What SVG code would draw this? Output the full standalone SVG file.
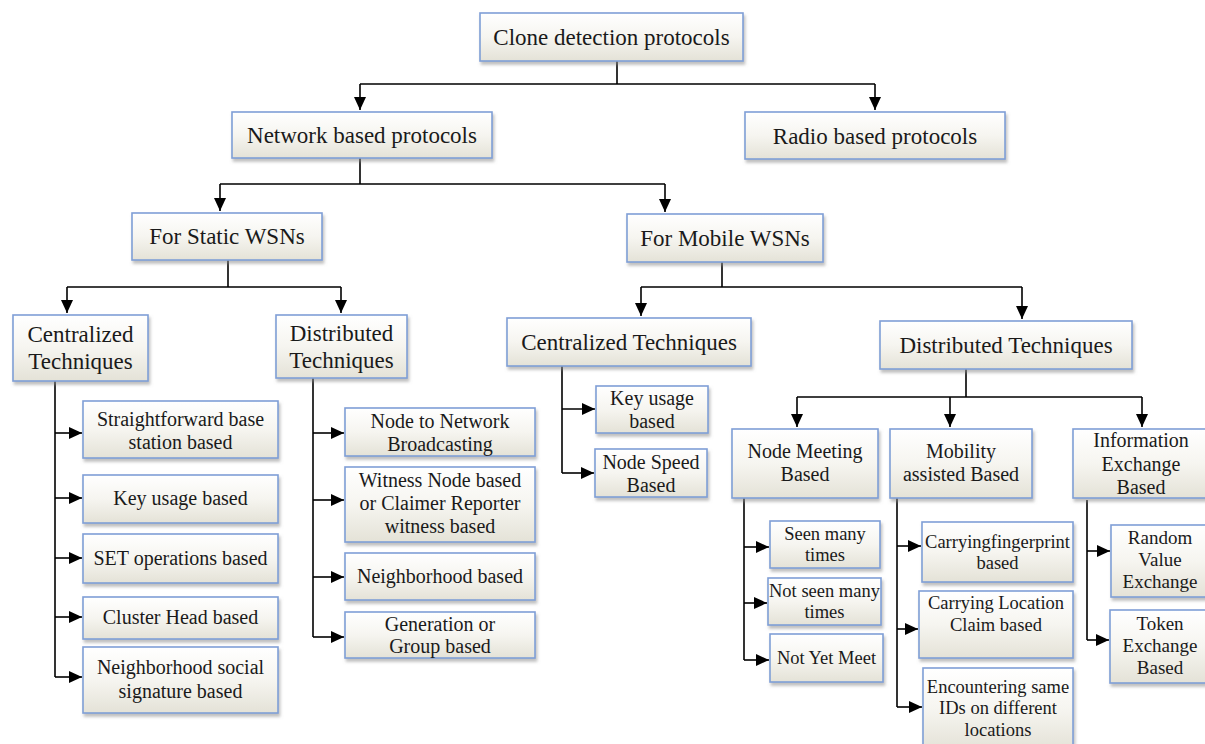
<svg xmlns="http://www.w3.org/2000/svg" width="1205" height="744" viewBox="0 0 1205 744">
<defs>
<linearGradient id="g" x1="0" y1="0" x2="0" y2="1">
<stop offset="0" stop-color="#ffffff"/>
<stop offset="0.5" stop-color="#f6f5f0"/>
<stop offset="1" stop-color="#e4e2d7"/>
</linearGradient>
<filter id="sh" x="-10%" y="-10%" width="130%" height="140%">
<feDropShadow dx="1.5" dy="3" stdDeviation="1.8" flood-color="#8a8a8a" flood-opacity="0.55"/>
</filter>
<marker id="ah" viewBox="0 0 13 12" refX="13" refY="6" markerWidth="13" markerHeight="12" markerUnits="userSpaceOnUse" orient="auto">
<path d="M0,0 L13,6 L0,12 z" fill="#000"/>
</marker>
</defs>
<style>
rect.b{fill:url(#g);stroke:#7f9fd6;stroke-width:1.6;filter:url(#sh)}
text{font-family:"Liberation Serif","Times New Roman",serif;fill:#1a1a1a;text-anchor:middle}
.l1{font-size:23px}
.l2{font-size:20px}
.l3{font-size:18.5px}
.l4{font-size:19px}
#connectors path{fill:none;stroke:#000;stroke-width:1.6}
#connectors path.a{marker-end:url(#ah)}
</style>
<rect width="1205" height="744" fill="#ffffff"/>

<g id="connectors">
<path d="M617 61 V84 M360 84 H875"/>
<path class="a" d="M360 84 V110"/>
<path class="a" d="M875 84 V110"/>
<path d="M360 158 V184 M220 184 H665"/>
<path class="a" d="M220 184 V211"/>
<path class="a" d="M665 184 V212"/>
<path d="M228 260 V287 M67 287 H341"/>
<path class="a" d="M67 287 V313"/>
<path class="a" d="M341 287 V313"/>
<path d="M722 262 V287 M641 287 H1022"/>
<path class="a" d="M641 287 V316"/>
<path class="a" d="M1022 287 V319"/>
<path d="M55 381 V677"/>
<path class="a" d="M55 433 H82"/>
<path class="a" d="M55 498 H82"/>
<path class="a" d="M55 558 H82"/>
<path class="a" d="M55 617 H82"/>
<path class="a" d="M55 677 H82"/>
<path d="M313 378 V637"/>
<path class="a" d="M313 433 H344"/>
<path class="a" d="M313 500 H344"/>
<path class="a" d="M313 577 H344"/>
<path class="a" d="M313 637 H344"/>
<path d="M562 366 V473"/>
<path class="a" d="M562 409 H595"/>
<path class="a" d="M562 473 H594"/>
<path d="M966 369 V397 M797 397 H1142"/>
<path class="a" d="M797 397 V427"/>
<path class="a" d="M950 397 V427"/>
<path class="a" d="M1142 397 V427"/>
<path d="M744 498 V660"/>
<path class="a" d="M744 547 H769"/>
<path class="a" d="M744 603 H767"/>
<path class="a" d="M744 660 H769"/>
<path d="M897 498 V707"/>
<path class="a" d="M897 546 H921"/>
<path class="a" d="M897 629 H918"/>
<path class="a" d="M897 707 H922"/>
<path d="M1087 500 V640"/>
<path class="a" d="M1087 551 H1110"/>
<path class="a" d="M1087 640 H1109"/>
</g>

<g id="n-clone"><rect class="b" x="480" y="13" width="263" height="48"/><text class="l1" x="611.5" y="45">Clone detection protocols</text></g>
<g id="n-network"><rect class="b" x="232" y="112" width="260" height="46"/><text class="l1" x="362" y="143">Network based protocols</text></g>
<g id="n-radio"><rect class="b" x="745" y="112" width="260" height="47"/><text class="l1" x="875" y="144">Radio based protocols</text></g>
<g id="n-static"><rect class="b" x="132" y="213" width="190" height="47"/><text class="l1" x="227" y="244">For Static WSNs</text></g>
<g id="n-mobile"><rect class="b" x="627" y="214" width="196" height="48"/><text class="l1" x="725" y="246">For Mobile WSNs</text></g>
<g id="n-s-central"><rect class="b" x="13" y="315" width="135" height="66"/><text class="l1" x="80.5" y="342">Centralized</text><text class="l1" x="80.5" y="369">Techniques</text></g>
<g id="n-s-distrib"><rect class="b" x="276" y="315" width="131" height="63"/><text class="l1" x="341.5" y="341">Distributed</text><text class="l1" x="341.5" y="368">Techniques</text></g>
<g id="n-m-central"><rect class="b" x="507" y="318" width="244" height="48"/><text class="l1" x="629" y="350">Centralized Techniques</text></g>
<g id="n-m-distrib"><rect class="b" x="880" y="321" width="252" height="48"/><text class="l1" x="1006" y="353">Distributed Techniques</text></g>

<g id="n-straight"><rect class="b" x="83" y="401" width="195" height="57"/><text class="l2" x="180.5" y="426">Straightforward base</text><text class="l2" x="180.5" y="449">station based</text></g>
<g id="n-key1"><rect class="b" x="83" y="475" width="195" height="48"/><text class="l2" x="180.5" y="505">Key usage based</text></g>
<g id="n-set"><rect class="b" x="83" y="534" width="195" height="49"/><text class="l2" x="180.5" y="565">SET operations based</text></g>
<g id="n-cluster"><rect class="b" x="83" y="597" width="195" height="42"/><text class="l2" x="180.5" y="624">Cluster Head based</text></g>
<g id="n-neigh-social"><rect class="b" x="83" y="647" width="195" height="66"/><text class="l2" x="180.5" y="674">Neighborhood social</text><text class="l2" x="180.5" y="698">signature based</text></g>

<g id="n-n2n"><rect class="b" x="345" y="408" width="190" height="48"/><text class="l2" x="440" y="428">Node to Network</text><text class="l2" x="440" y="451">Broadcasting</text></g>
<g id="n-witness"><rect class="b" x="345" y="467" width="190" height="75"/><text class="l2" x="440" y="487">Witness Node based</text><text class="l2" x="440" y="510">or Claimer Reporter</text><text class="l2" x="440" y="533">witness based</text></g>
<g id="n-neigh"><rect class="b" x="345" y="553" width="190" height="47"/><text class="l2" x="440" y="583">Neighborhood based</text></g>
<g id="n-gen"><rect class="b" x="345" y="612" width="190" height="46"/><text class="l2" x="440" y="631">Generation or</text><text class="l2" x="440" y="653">Group based</text></g>

<g id="n-key2"><rect class="b" x="596" y="386" width="112" height="47"/><text class="l2" x="652" y="405">Key usage</text><text class="l2" x="652" y="428">based</text></g>
<g id="n-speed"><rect class="b" x="595" y="449" width="112" height="48"/><text class="l2" x="651" y="469">Node Speed</text><text class="l2" x="651" y="492">Based</text></g>

<g id="n-meeting"><rect class="b" x="732" y="429" width="146" height="69"/><text class="l2" x="805" y="458">Node Meeting</text><text class="l2" x="805" y="481">Based</text></g>
<g id="n-mobility"><rect class="b" x="890" y="429" width="142" height="69"/><text class="l2" x="961" y="458">Mobility</text><text class="l2" x="961" y="481">assisted Based</text></g>
<g id="n-info"><rect class="b" x="1073" y="429" width="137" height="69"/><text class="l2" x="1141" y="447">Information</text><text class="l2" x="1141" y="471">Exchange</text><text class="l2" x="1141" y="494">Based</text></g>

<g id="n-seen"><rect class="b" x="770" y="521" width="110" height="47"/><text class="l3" x="825" y="540">Seen many</text><text class="l3" x="825" y="561">times</text></g>
<g id="n-notseen"><rect class="b" x="768" y="578" width="113" height="47"/><text class="l3" x="824.5" y="597">Not seen many</text><text class="l3" x="824.5" y="618">times</text></g>
<g id="n-notyet"><rect class="b" x="770" y="634" width="113" height="48"/><text class="l3" x="826.5" y="664">Not Yet Meet</text></g>

<g id="n-finger"><rect class="b" x="922" y="522" width="151" height="60"/><text class="l3" x="997.5" y="548">Carryingfingerprint</text><text class="l3" x="997.5" y="569">based</text></g>
<g id="n-location"><rect class="b" x="919" y="591" width="154" height="67"/><text class="l3" x="996" y="609">Carrying Location</text><text class="l3" x="996" y="631">Claim based</text></g>
<g id="n-encounter"><rect class="b" x="923" y="668" width="150" height="82"/><text class="l3" x="998" y="693">Encountering same</text><text class="l3" x="998" y="714">IDs on different</text><text class="l3" x="998" y="736">locations</text></g>

<g id="n-random"><rect class="b" x="1111" y="525" width="100" height="72"/><text class="l4" x="1160" y="544">Random</text><text class="l4" x="1160" y="566">Value</text><text class="l4" x="1160" y="588">Exchange</text></g>
<g id="n-token"><rect class="b" x="1110" y="610" width="100" height="73"/><text class="l4" x="1160" y="630">Token</text><text class="l4" x="1160" y="652">Exchange</text><text class="l4" x="1160" y="674">Based</text></g>
</svg>
